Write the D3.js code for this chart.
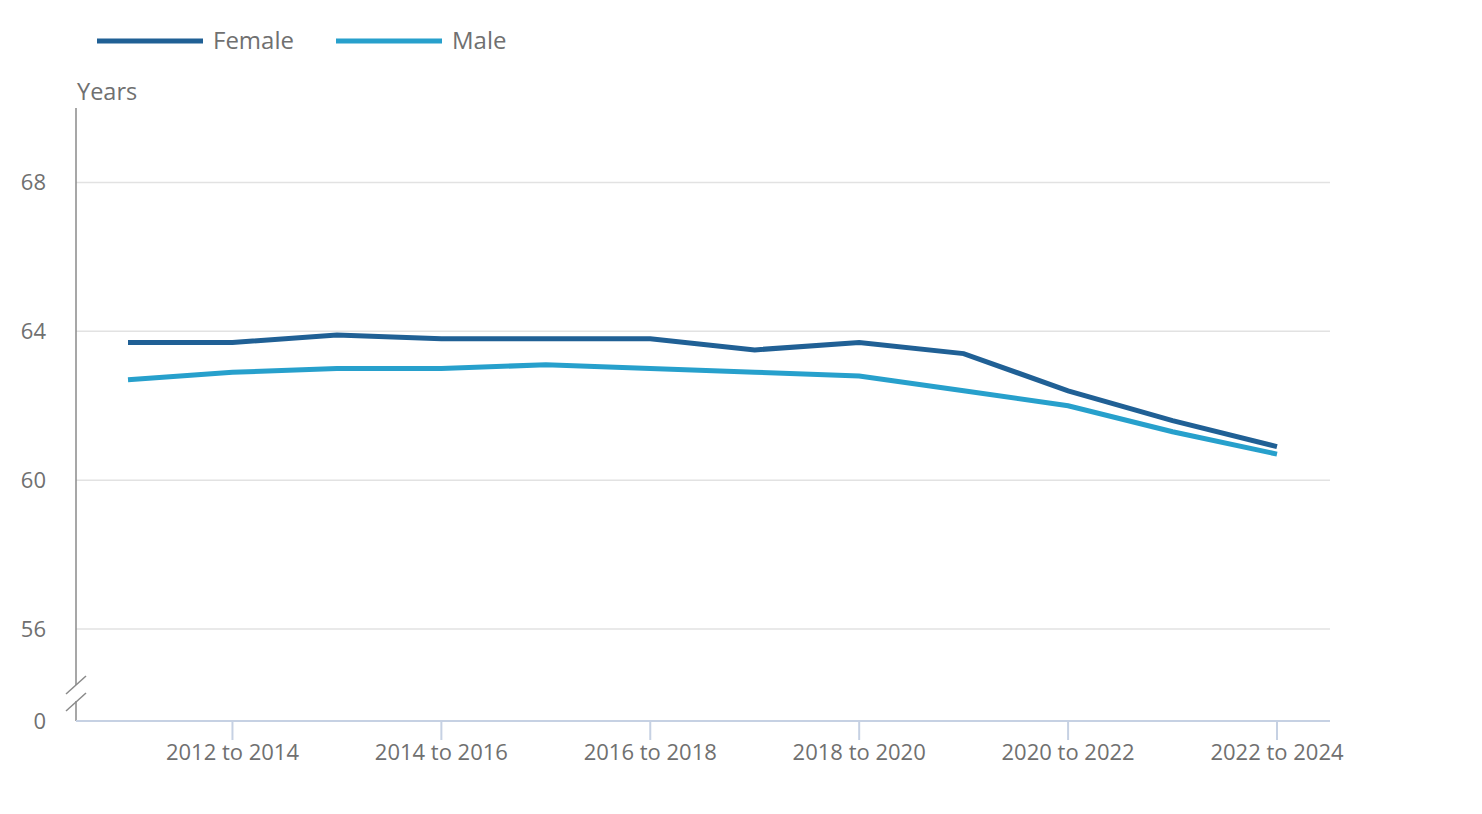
<!DOCTYPE html>
<html>
<head>
<meta charset="utf-8">
<script src="https://cdn.jsdelivr.net/npm/d3@7"></script>
<style>
  body { margin: 0; background: #fff; }
  svg { font-family: "Open Sans", sans-serif; }
</style>
</head>
<body>
<div id="chartContainer"></div>
<script>
var periods = ["2011 to 2013", "2012 to 2014", "2013 to 2015", "2014 to 2016", "2015 to 2017", "2016 to 2018",
               "2017 to 2019", "2018 to 2020", "2019 to 2021", "2020 to 2022", "2021 to 2023", "2022 to 2024"]
var female = [63.7, 63.7, 63.9, 63.8, 63.8, 63.8, 63.5, 63.7, 63.4, 62.4, 61.6, 60.9]
var male = [62.7, 62.9, 63.0, 63.0, 63.1, 63.0, 62.9, 62.8, 62.4, 62.0, 61.3, 60.7]
var yTicks = [56, 60, 64, 68]
var xTickLabels = ["2012 to 2014", "2014 to 2016", "2016 to 2018", "2018 to 2020", "2020 to 2022", "2022 to 2024"]

var series = [
    { name: "Female", values: female, color: "#206095" },
    { name: "Male", values: male, color: "#27a0cc" }
]

var width = 1482, height = 814
var left = 76, right = 1330, zeroY = 721

var svg = d3.select('#chartContainer').append('svg')
    .attr('width', width)
    .attr('height', height)

var xScale = d3.scalePoint()
    .domain(periods)
    .range([128, 1277])

var yScale = d3.scaleLinear()
    .domain([56, 70])
    .range([629, 108])

// gridlines
svg.selectAll('.grid')
    .data(yTicks)
    .enter()
    .append('line')
    .attr('x1', left)
    .attr('x2', right)
    .attr('y1', function(d) { return yScale(d) })
    .attr('y2', function(d) { return yScale(d) })
    .style('stroke', '#e2e2e2')
    .style('stroke-width', 1.5)

// y labels
svg.selectAll('.ylab')
    .data(yTicks.concat([0]))
    .enter()
    .append('text')
    .attr('x', 46)
    .attr('y', function(d) { return d === 0 ? zeroY : yScale(d) })
    .attr('dy', '0.35em')
    .attr('text-anchor', 'end')
    .style('font-size', '22px')
    .style('fill', '#707070')
    .text(function(d) { return d })

// y axis with break
svg.append('line').attr('x1', left).attr('x2', left).attr('y1', yScale(70)).attr('y2', 685)
    .style('stroke', '#8a8a8a').style('stroke-width', 1.5)
svg.append('line').attr('x1', left).attr('x2', left).attr('y1', 701).attr('y2', zeroY)
    .style('stroke', '#8a8a8a').style('stroke-width', 1.5)
svg.selectAll('.brk')
    .data([0, 17])
    .enter()
    .append('line')
    .attr('x1', 66).attr('x2', 86)
    .attr('y1', function(d) { return 694 + d })
    .attr('y2', function(d) { return 676 + d })
    .style('stroke', '#8a8a8a').style('stroke-width', 1.5)

// x axis
var xAxis = svg.append('g')
xAxis.append('line').attr('x1', left).attr('x2', right).attr('y1', zeroY).attr('y2', zeroY)
    .style('stroke', '#c6d1e3').style('stroke-width', 2)
var xt = xAxis.selectAll('.xt')
    .data(xTickLabels)
    .enter()
    .append('g')
    .attr('transform', function(d) { return 'translate(' + xScale(d) + ',0)' })
xt.append('line').attr('y1', zeroY).attr('y2', 740)
    .style('stroke', '#c6d1e3').style('stroke-width', 2)
xt.append('text').attr('y', 760).attr('text-anchor', 'middle')
    .style('font-size', '22px').style('fill', '#707070')
    .text(function(d) { return d })

// axis title
svg.append('text').attr('x', 77).attr('y', 100)
    .style('font-size', '23.5px').style('fill', '#707070')
    .text('Years')

// lines
var line = d3.line()
    .x(function(d, i) { return xScale(periods[i]) })
    .y(function(d) { return yScale(d) })

svg.selectAll('.series')
    .data(series)
    .enter()
    .append('path')
    .attr('d', function(d) { return line(d.values) })
    .style('fill', 'none')
    .style('stroke', function(d) { return d.color })
    .style('stroke-width', 5)

// legend
var legendX = [97, 336]
var leg = svg.selectAll('.leg')
    .data(series)
    .enter()
    .append('g')
    .attr('transform', function(d, i) { return 'translate(' + legendX[i] + ',41)' })
leg.append('line').attr('x1', 0).attr('x2', 106)
    .style('stroke', function(d) { return d.color }).style('stroke-width', 5)
leg.append('text').attr('x', 116).attr('dy', '0.35em')
    .style('font-size', '24px').style('fill', '#707070')
    .text(function(d) { return d.name })
</script>
</body>
</html>
